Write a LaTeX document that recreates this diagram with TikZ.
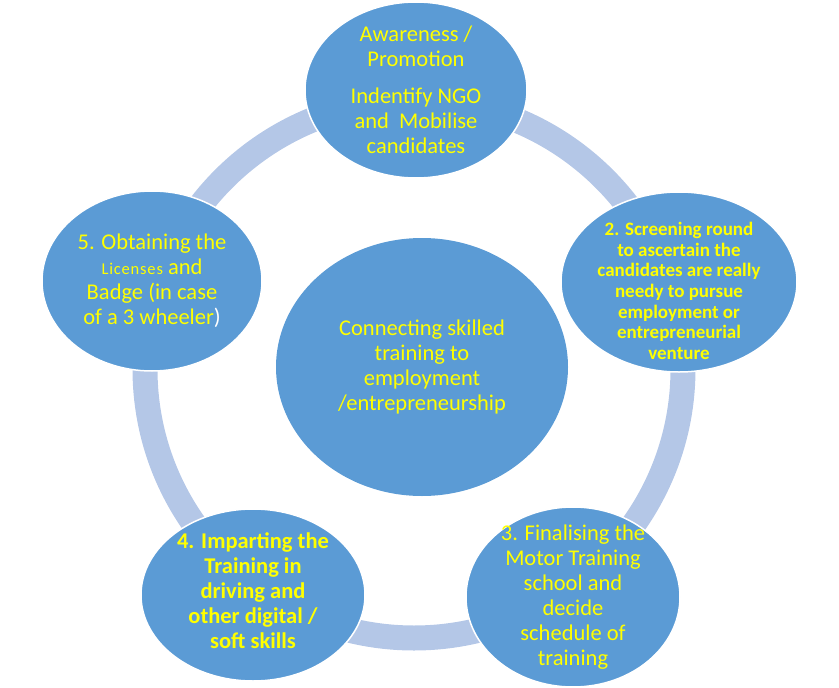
\documentclass[tikz,border=0pt]{standalone}
\usepackage{fontspec}
\setmainfont{Carlito}
\usetikzlibrary{shapes.geometric}
\definecolor{cycblue}{HTML}{5B9BD5}
\definecolor{ringblue}{HTML}{B4C7E7}
\definecolor{txtyellow}{HTML}{FFFF00}

\begin{document}
\begin{tikzpicture}[
    x=1pt, y=-1pt,
    bubble/.style={ellipse, draw=white, line width=1.5pt, fill=cycblue,
                   inner sep=0pt},
    steptext/.style={text=txtyellow, align=center,
                     font=\fontsize{22.5}{25}\selectfont},
    boldtext/.style={steptext, font=\fontsize{22.5}{25}\selectfont\bfseries}
  ]
  \useasboundingbox (0,0) rectangle (839,688);

  % Ring behind the steps
  \draw[ringblue, line width=25pt] (414,369) circle[radius=269];

  % Centre
  \node[bubble, draw=none, minimum width=292, minimum height=258] (hub) at (422,367) {};
  \node[steptext] at (hub) {Connecting skilled\\ training to\\ employment\\ /entrepreneurship};

  % Step 1 (top)
  \node[bubble, minimum width=222, minimum height=176] (aware) at (416,90) {};
  \node[steptext] at (aware) {Awareness /\\ Promotion\\[12pt] Indentify NGO\\ and\ \ Mobilise\\ candidates};

  % Step 2 (right)
  \node[bubble, minimum width=236, minimum height=180] (screen) at (679,282) {};
  \node[boldtext, font=\fontsize{19}{20.6}\selectfont\bfseries] at (679,291)
    {2. Screening round\\ to ascertain the\\ candidates are really\\ needy to pursue\\
     employment or\\ entrepreneurial\\ venture};

  % Step 3 (bottom right)
  \node[bubble, minimum width=214, minimum height=180] (school) at (573,597) {};
  \node[steptext] at (school) {3. Finalising the\\ Motor Training\\ school and\\ decide\\
    schedule of\\ training};

  % Step 4 (bottom left)
  \node[bubble, minimum width=224, minimum height=172] (train) at (253,595) {};
  \node[boldtext] at (253,591) {4. Imparting the\\ Training in\\ driving and\\
    other digital /\\ soft skills};

  % Step 5 (left)
  \node[bubble, minimum width=220, minimum height=180] (badge) at (152,281) {};
  \node[steptext] at (badge) {5. Obtaining the\\
    {\fontsize{16.5}{25}\selectfont\addfontfeatures{LetterSpace=5}Licenses} and\\
    Badge (in case\\ of a 3 wheeler\textcolor{white}{)}};
\end{tikzpicture}
\end{document}
